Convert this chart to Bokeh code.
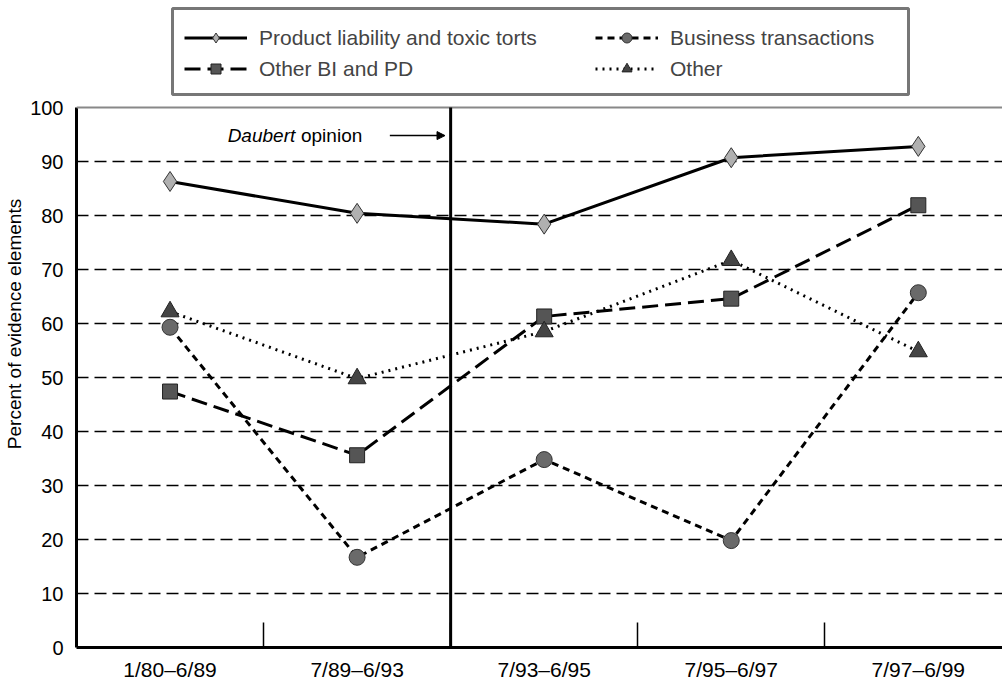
from bokeh.plotting import figure
from bokeh.models import (Range1d, FixedTicker, Span, Label, Arrow, NormalHead,
                          Legend, LegendItem, ColumnDataSource, BoxAnnotation)
from bokeh.embed import file_html
from bokeh.resources import INLINE

periods = ["1/80–6/89", "7/89–6/93", "7/93–6/95", "7/95–6/97", "7/97–6/99"]
product_liability = [86.3, 80.4, 78.4, 90.7, 92.8]
other_bi_pd = [47.4, 35.6, 61.3, 64.6, 81.9]
business = [59.3, 16.7, 34.8, 19.8, 65.7]
other = [62.2, 49.8, 58.5, 71.7, 54.8]
y_ticks = [0, 10, 20, 30, 40, 50, 60, 70, 80, 90, 100]

xs = list(range(len(periods)))
FONT = "Liberation Sans"

# frame spans the full height above the x axis; value 100 sits 107 px below the top
p = figure(width=1002, height=683, output_backend="svg", toolbar_location=None,
           x_range=Range1d(-0.5, 4.45), y_range=Range1d(0, 100 * 647 / 540),
           min_border_left=76, min_border_right=0, min_border_top=0,
           min_border_bottom=36)
p.outline_line_color = None
p.background_fill_color = "white"

# axes
p.xaxis.ticker = FixedTicker(ticks=xs, minor_ticks=[0.5, 1.5, 2.5, 3.5])
p.xaxis.major_label_overrides = {i: s for i, s in enumerate(periods)}
p.xaxis.major_tick_in = 0
p.xaxis.major_tick_out = 0
p.xaxis.minor_tick_in = 25
p.xaxis.minor_tick_out = 0
p.xaxis.minor_tick_line_color = "black"
p.xaxis.minor_tick_line_width = 1.5
p.xaxis.axis_line_width = 3
p.xaxis.axis_line_color = "black"
p.xaxis.major_label_text_font = FONT
p.xaxis.major_label_text_font_size = "21px"
p.xaxis.major_label_text_color = "black"
p.xaxis.major_label_standoff = 10

p.yaxis.ticker = FixedTicker(ticks=y_ticks)
p.yaxis.bounds = (0, 100)
p.yaxis.major_tick_in = 0
p.yaxis.major_tick_out = 0
p.yaxis.minor_tick_line_color = None
p.yaxis.axis_line_width = 3
p.yaxis.axis_line_color = "black"
p.yaxis.major_label_text_font = FONT
p.yaxis.major_label_text_font_size = "20px"
p.yaxis.major_label_text_color = "black"
p.yaxis.major_label_standoff = 13
p.yaxis.axis_label = "Percent of evidence elements"
p.yaxis.axis_label_text_font = FONT
p.yaxis.axis_label_text_font_size = "19px"
p.yaxis.axis_label_text_font_style = "normal"
p.yaxis.axis_label_text_color = "black"
p.yaxis.axis_label_standoff = 2

p.xgrid.grid_line_color = None
p.ygrid.ticker = FixedTicker(ticks=y_ticks[1:-1])
p.ygrid.grid_line_color = "black"
p.ygrid.grid_line_dash = "12 6"
p.ygrid.grid_line_width = 1.3

p.add_layout(Span(location=100, dimension="width", line_color="#888888", line_width=2))
# Daubert divider, from 0 to 100 only
p.add_layout(BoxAnnotation(left=1.5, right=1.5, bottom=0, top=100, fill_alpha=0,
                           line_color="black", line_width=3, line_alpha=1))

# Daubert annotation
p.add_layout(Label(x=0.308, y=94.8, text="Daubert", text_font=FONT, text_font_size="19px",
                   text_font_style="italic", text_baseline="middle", text_color="black"))
p.add_layout(Label(x=0.70, y=94.8, text="opinion", text_font=FONT, text_font_size="19px",
                   text_baseline="middle", text_color="black"))
p.add_layout(Arrow(x_start=1.175, y_start=94.8, x_end=1.47, y_end=94.8, line_width=1.5,
                   end=NormalHead(size=8, fill_color="black", line_color="black")))

src = ColumnDataSource(dict(x=xs, pl=product_liability, bi=other_bi_pd, bt=business, ot=other))

r1l = p.line("x", "pl", source=src, line_color="black", line_width=3)
r1m = p.scatter("x", "pl", source=src, marker="diamond", size=20, fill_color="#b0b0b0",
                line_color="#333333", line_width=1)
r2l = p.line("x", "bi", source=src, line_color="black", line_width=3, line_dash="16 7")
r2m = p.scatter("x", "bi", source=src, marker="square", size=15, fill_color="#555555",
                line_color="#222222", line_width=1)
r3l = p.line("x", "bt", source=src, line_color="black", line_width=3, line_dash="7 5")
r3m = p.scatter("x", "bt", source=src, marker="circle", size=16, fill_color="#6a6a6a",
                line_color="#333333", line_width=1)
r4l = p.line("x", "ot", source=src, line_color="black", line_width=3, line_dash="2 5")
r4m = p.scatter("x", "ot", source=src, marker="triangle", size=18, fill_color="#444444",
                line_color="#222222", line_width=1)

# legend frame (screen units relative to the frame, y measured upward)
p.add_layout(BoxAnnotation(left=96, right=832, top=639, bottom=553,
                           left_units="screen", right_units="screen",
                           top_units="screen", bottom_units="screen",
                           fill_color="white", fill_alpha=1,
                           line_color="#777777", line_width=3, line_alpha=1))


def make_legend(items, x):
    lg = Legend(items=items, location=(x, 566))
    lg.label_text_font = FONT
    lg.label_text_font_size = "21px"
    lg.glyph_width = 63
    lg.glyph_height = 25
    lg.label_standoff = 12
    lg.label_height = 25
    lg.spacing = 6
    lg.padding = 15
    lg.margin = 0
    lg.border_line_color = None
    lg.background_fill_alpha = 0
    p.add_layout(lg, "center")


make_legend([
    LegendItem(label="Product liability and toxic torts", renderers=[r1l, r1m]),
    LegendItem(label="Other BI and PD", renderers=[r2l, r2m]),
], 108)
make_legend([
    LegendItem(label="Business transactions", renderers=[r3l, r3m]),
    LegendItem(label="Other", renderers=[r4l, r4m]),
], 519)

open("out.html", "w").write(file_html(p, INLINE))
